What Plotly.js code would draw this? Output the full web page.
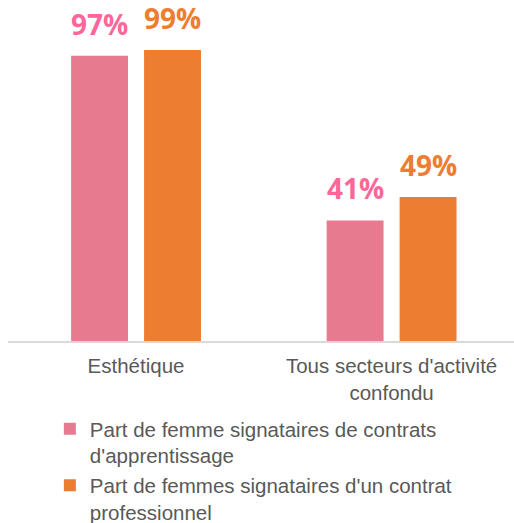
<!DOCTYPE html>
<html>
<head>
<meta charset="utf-8">
<script src="https://cdn.plot.ly/plotly-3.0.1.min.js"></script>
<style>
html,body{margin:0;padding:0;background:#fff;}
#chart{width:514px;height:523px;}
</style>
</head>
<body>
<div id="chart"></div>
<script>
const categories = ["Esthétique", "Tous secteurs d'activité<br>confondu"];
const seriesNames = ["Part de femme signataires de contrats<br>d'apprentissage", "Part de femmes signataires d'un contrat<br>professionnel"];
const apprentissage = [97, 41];
const professionnel = [99, 49];
const barColors = ["#E87A90", "#ED7D31"];
const labelColors = ["#FF6699", "#ED7D31"];

const seriesValues = [apprentissage, professionnel];
const traces = seriesValues.map((vals, i) => ({
  type: 'bar',
  x: categories,
  y: vals,
  name: seriesNames[i],
  marker: {color: barColors[i]},
  hoverinfo: 'skip'
}));

const annotations = [];
seriesValues.forEach((vals, i) => {
  vals.forEach((v, j) => {
    annotations.push({
      x: j, y: v, xref: 'x', yref: 'y',
      text: v + '%',
      showarrow: false,
      xshift: i === 0 ? -36.5 : 36.5,
      yanchor: 'bottom',
      yshift: 11,
      font: {family: '"Open Sans", sans-serif', size: 28, color: labelColors[i], weight: 'bold'}
    });
  });
});

const layout = {
  width: 514, height: 523,
  margin: {l: 8, r: 0, t: 0, b: 182, autoexpand: false},
  paper_bgcolor: '#fff', plot_bgcolor: '#fff',
  barmode: 'group',
  bargap: 0.429,
  bargroupgap: 0.22,
  showlegend: true,
  legend: {
    xref: 'container', yref: 'container',
    x: 0.097, y: 1 - 409/523, xanchor: 'left', yanchor: 'top',
    orientation: 'v',
    valign: 'top',
    bgcolor: 'rgba(0,0,0,0)',
    font: {family: '"Liberation Sans", Arial, sans-serif', size: 20.5, color: '#595959'},
    tracegroupgap: 0
  },
  xaxis: {
    type: 'category',
    range: [-0.501, 1.479],
    showline: true, linecolor: '#D9D9D9', linewidth: 1.5,
    showgrid: false, zeroline: false, ticks: '',
    tickangle: 0,
    automargin: false,
    ticklabelstandoff: 6,
    tickfont: {family: '"Liberation Sans", Arial, sans-serif', size: 20.5, color: '#595959'},
    fixedrange: true
  },
  yaxis: {
    range: [0, 116],
    visible: false,
    showgrid: false, zeroline: false,
    fixedrange: true
  },
  annotations: annotations
};

Plotly.newPlot('chart', traces, layout, {displayModeBar: false, staticPlot: true});
</script>
</body>
</html>
